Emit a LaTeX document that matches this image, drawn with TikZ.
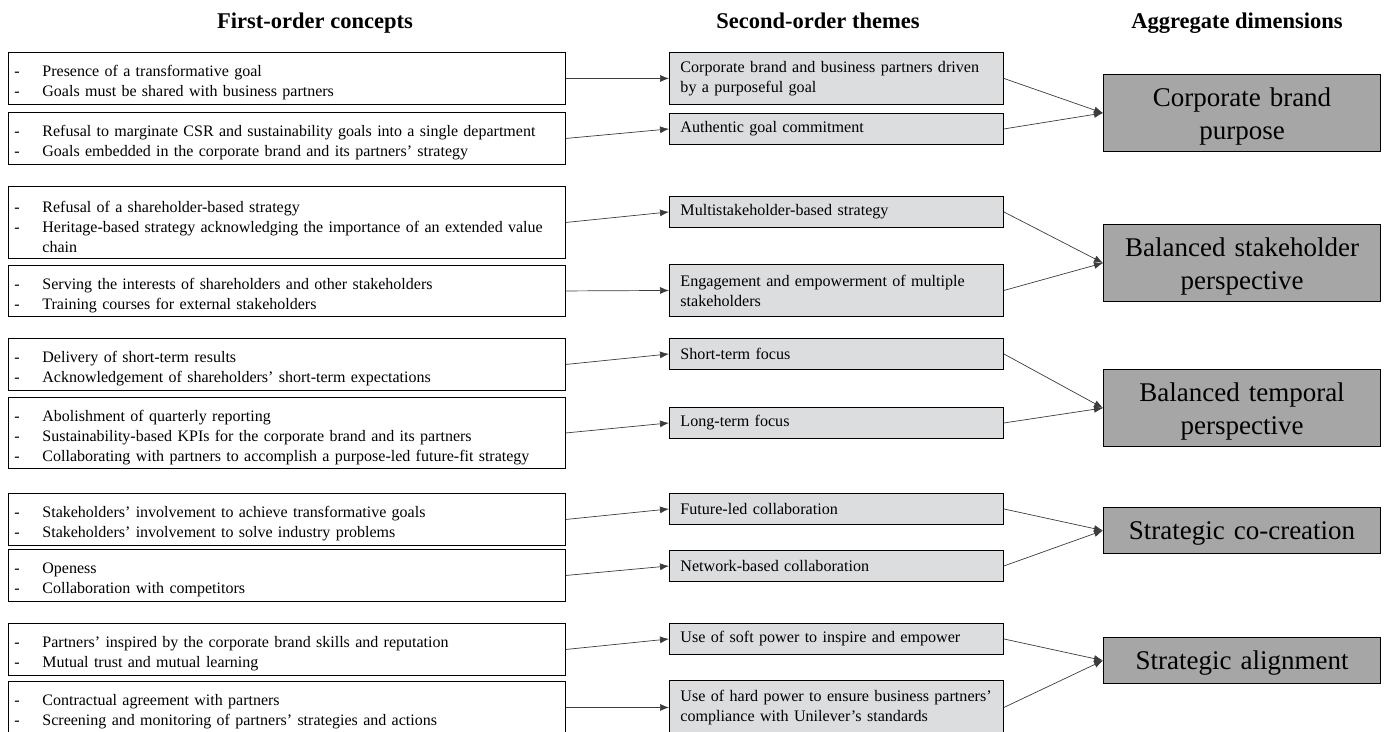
\documentclass[tikz,border=0pt]{standalone}
\usepackage{fontspec}
\setmainfont{Liberation Serif}
\usetikzlibrary{arrows.meta}
\definecolor{midfill}{RGB}{220,221,223}
\definecolor{aggfill}{RGB}{166,166,166}
\definecolor{linecol}{RGB}{60,60,60}
\newcommand{\li}[1]{\par\noindent\makebox[28pt][l]{-}\parbox[t]{517pt}{\raggedright #1}}
\begin{document}
\begin{tikzpicture}[x=1pt,y=-1pt,
 lbox/.style={draw, line width=0.9pt, anchor=north west, text width=545pt, inner xsep=6pt, inner ysep=3pt, align=left, font=\fontsize{16}{20}\selectfont},
 mbox/.style={draw, line width=0.9pt, fill=midfill, anchor=north west, text width=312pt, inner xsep=11pt, inner ysep=3pt, align=left, font=\fontsize{16.1}{20}\selectfont},
 abox/.style={draw, line width=1pt, fill=aggfill, anchor=north west, minimum width=277pt, inner sep=0pt},
 atext/.style={text width=257pt, inner sep=0pt, align=center, font=\fontsize{27}{33}\selectfont},
 hdr/.style={anchor=base, font=\bfseries\fontsize{22.5}{26}\selectfont},
 arr/.style={draw=linecol, line width=0.7pt, -{Latex[length=9pt,width=7pt]}}]
\useasboundingbox (0,0) rectangle (1389,731);
\clip (0,0) rectangle (1389,731);

\node[hdr] (h1) at (315,28) {First-order concepts};
\node[hdr] (h2) at (818,28) {Second-order themes};
\node[hdr] (h3) at (1237,28) {Aggregate dimensions};

% first-order concepts
\node[lbox, minimum height=52pt] (a1) at (8,52) {\li{Presence of a transformative goal}\li{Goals must be shared with business partners}};
\node[lbox, minimum height=52pt] (a2) at (8,112) {\li{Refusal to marginate CSR and sustainability goals into a single department}\li{Goals embedded in the corporate brand and its partners’ strategy}};
\node[lbox, minimum height=72pt] (a3) at (8,186) {\li{Refusal of a shareholder-based strategy}\li{Heritage-based strategy acknowledging the importance of an extended value\\chain}};
\node[lbox, minimum height=51pt] (a4) at (8,265) {\li{Serving the interests of shareholders and other stakeholders}\li{Training courses for external stakeholders}};
\node[lbox, minimum height=52pt] (a5) at (8,338) {\li{Delivery of short-term results}\li{Acknowledgement of shareholders’ short-term expectations}};
\node[lbox, minimum height=71pt] (a6) at (8,397) {\li{Abolishment of quarterly reporting}\li{Sustainability-based KPIs for the corporate brand and its partners}\li{Collaborating with partners to accomplish a purpose-led future-fit strategy}};
\node[lbox, minimum height=52pt] (a7) at (8,493) {\li{Stakeholders’ involvement to achieve transformative goals}\li{Stakeholders’ involvement to solve industry problems}};
\node[lbox, minimum height=52pt] (a8) at (8,549) {\li{Openess}\li{Collaboration with competitors}};
\node[lbox, minimum height=52pt] (a9) at (8,623) {\li{Partners’ inspired by the corporate brand skills and reputation}\li{Mutual trust and mutual learning}};
\node[lbox, minimum height=52pt] (a10) at (8,681) {\li{Contractual agreement with partners}\li{Screening and monitoring of partners’ strategies and actions}};

% second-order themes
\node[mbox, minimum height=52pt] (m1) at (669,52) {Corporate brand and business partners driven\\by a purposeful goal};
\node[mbox, minimum height=31pt] (m2) at (669,113) {Authentic goal commitment};
\node[mbox, minimum height=31pt] (m3) at (669,196) {Multistakeholder-based strategy};
\node[mbox, minimum height=52pt] (m4) at (669,264) {Engagement and empowerment of multiple\\stakeholders};
\node[mbox, minimum height=31pt] (m5) at (669,338) {Short-term focus};
\node[mbox, minimum height=31pt] (m6) at (669,407) {Long-term focus};
\node[mbox, minimum height=31pt] (m7) at (669,493) {Future-led collaboration};
\node[mbox, minimum height=31pt] (m8) at (669,550) {Network-based collaboration};
\node[mbox, minimum height=31pt] (m9) at (669,623) {Use of soft power to inspire and empower};
\node[mbox, minimum height=54pt] (m10) at (669,680) {Use of hard power to ensure business partners’\\compliance with Unilever’s standards};

% aggregate dimensions (box, then its text)
\node[abox, minimum height=77pt] (d1) at (1103,74) {};
\node[abox, minimum height=77pt] (d2) at (1103,224) {};
\node[abox, minimum height=77pt] (d3) at (1103,369) {};
\node[abox, minimum height=46pt] (d4) at (1103,507) {};
\node[abox, minimum height=46pt] (d5) at (1103,637) {};
\node[atext] (t1) at ([yshift=-4pt]d1.center) {Corporate brand\\purpose};
\node[atext] (t2) at ([yshift=-4pt]d2.center) {Balanced stakeholder\\perspective};
\node[atext] (t3) at ([yshift=-4pt]d3.center) {Balanced temporal\\perspective};
\node[atext] (t4) at ([yshift=-3pt]d4.center) {Strategic co-creation};
\node[atext] (t5) at ([yshift=-3pt]d5.center) {Strategic alignment};

% connectors
\foreach \i in {1,...,10} { \draw[arr] (a\i.east) -- (m\i.west); }
\draw[arr] (m1.east) -- (d1.west);
\draw[arr] (m2.east) -- (d1.west);
\draw[arr] (m3.east) -- (d2.west);
\draw[arr] (m4.east) -- (d2.west);
\draw[arr] (m5.east) -- (d3.west);
\draw[arr] (m6.east) -- (d3.west);
\draw[arr] (m7.east) -- (d4.west);
\draw[arr] (m8.east) -- (d4.west);
\draw[arr] (m9.east) -- (d5.west);
\draw[arr] (m10.east) -- (d5.west);
\end{tikzpicture}
\end{document}
